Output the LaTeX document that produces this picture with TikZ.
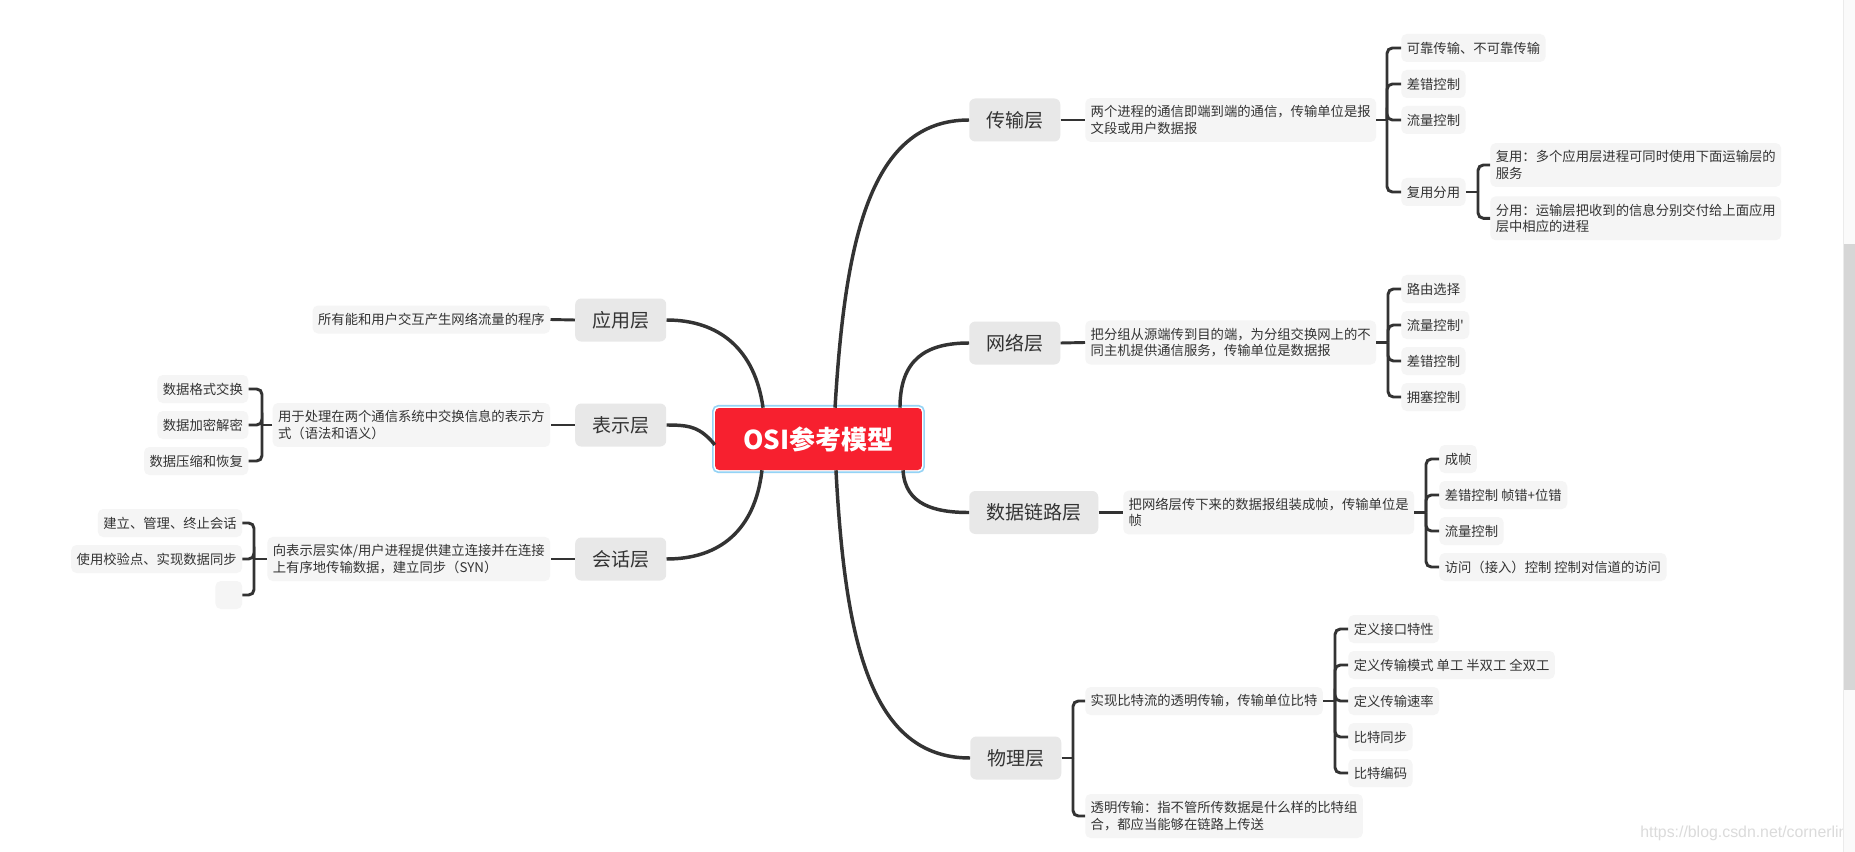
\documentclass[tikz,border=0pt]{standalone}
\usepackage{fontspec}
\newfontfamily\cjk{Noto Sans CJK SC}
\newfontfamily\urlfont{Liberation Sans}

\definecolor{rootred}{HTML}{F7202F}
\definecolor{selblue}{HTML}{95D3F5}
\definecolor{linegray}{HTML}{333333}
\definecolor{topicgray}{HTML}{E8E8E8}
\definecolor{leafgray}{HTML}{F5F5F5}
\definecolor{textgray}{HTML}{333333}

\tikzset{
	root/.style={fill=rootred, text=white, rounded corners=3pt, minimum width=155pt, minimum height=46.5pt, font=\cjk\fontsize{19.5}{23}\selectfont\bfseries},
	topic/.style={fill=topicgray, text=textgray, rounded corners=4.5pt, inner xsep=12.75pt, inner ysep=2pt, minimum height=32.25pt, font=\cjk\fontsize{14.25}{17}\selectfont},
	leaf/.style={fill=leafgray, text=textgray, rounded corners=4pt, inner xsep=4.1pt, inner ysep=5.5pt, minimum height=21pt, minimum width=20pt, align=left, font=\cjk\fontsize{10}{12.5}\selectfont},
	branch/.style={draw=linegray, line width=2.2pt},
	limb/.style={draw=linegray, line width=2.6pt},
	brace/.style={branch, rounded corners=4pt},
	wmark/.style={text=black!14, inner sep=0pt, font=\urlfont\fontsize{11.9}{14}\selectfont},
}

\begin{document}
\begin{tikzpicture}[x=0.75pt, y=-0.75pt]
	\useasboundingbox [fill=white] (0,0) rectangle (1855,852);

	% Root and main topics
	\node [root] (osi) at (818.5,439) {OSI参考模型};
	\draw [selblue, line width=1.2pt, rounded corners=4pt] ([shift={(-2,-2)}]osi.north west) rectangle ([shift={(2,2)}]osi.south east);

	\node [topic, anchor=west] (tran) at (969,120) {传输层};
	\node [topic, anchor=west] (net) at (969,343) {网络层};
	\node [topic, anchor=west] (dll) at (969,512.5) {数据链路层};
	\node [topic, anchor=west] (phy) at (970,758) {物理层};
	\node [topic, anchor=east] (app) at (666.5,320) {应用层};
	\node [topic, anchor=east] (pres) at (666.5,425) {表示层};
	\node [topic, anchor=east] (sess) at (666.5,559) {会话层};

	\draw [limb] ([xshift=12.4pt]osi.north) .. controls (845,240) and (870,120) .. (tran.west);
	\draw [limb] ([xshift=61.1pt]osi.north) .. controls (900,360) and (925,343) .. (net.west);
	\draw [limb] ([xshift=63.4pt]osi.south) .. controls (905,505) and (935,512.5) .. (dll.west);
	\draw [limb] ([xshift=13.1pt]osi.south) .. controls (845,640) and (870,758) .. (phy.west);
	\draw [limb] ([xshift=-41.6pt]osi.north) .. controls (755,350) and (720,320) .. (app.east);
	\draw [limb] ([yshift=-4.4pt]osi.west) .. controls (700,427) and (690,425) .. (pres.east);
	\draw [limb] ([xshift=-42.4pt]osi.south) .. controls (755,530) and (720,559) .. (sess.east);

	% Transport layer
	\node [leaf, anchor=west] (tran-d) at (1085,120) {两个进程的通信即端到端的通信，传输单位是报\\文段或用户数据报};
	\draw [branch] (tran.east) -- (tran-d.west);
	\coordinate (tran-b) at (1387,120);
	\draw [branch] (tran-d.east) -- (tran-b);
	\foreach \t [count=\k] in {可靠传输、不可靠传输,差错控制,流量控制,复用分用}{
		\ifnum\k<4
			\node [leaf, anchor=west] (tran-\k) at (1401,{12+36*\k}) {\t};
		\else
			\node [leaf, anchor=west] (tran-\k) at (1401,192) {\t};
		\fi
		\draw [brace] (tran-b) |- (tran-\k.west);
	}

	\coordinate (mux-b) at (1478,192);
	\draw [branch] (tran-4.east) -- (mux-b);
	\node [leaf, anchor=west] (mux-1) at (1490,165) {复用：多个应用层进程可同时使用下面运输层的\\服务};
	\node [leaf, anchor=west] (mux-2) at (1490,218.3) {分用：运输层把收到的信息分别交付给上面应用\\层中相应的进程};
	\draw [brace] (mux-b) |- (mux-1.west);
	\draw [brace] (mux-b) |- (mux-2.west);

	% Network layer
	\node [leaf, anchor=west] (net-d) at (1085,342.5) {把分组从源端传到目的端，为分组交换网上的不\\同主机提供通信服务，传输单位是数据报};
	\draw [branch] (net.east) -- (net-d.west);
	\coordinate (net-b) at (1388,342.5);
	\draw [branch] (net-d.east) -- (net-b);
	\foreach \t [count=\k] in {路由选择,流量控制',差错控制,拥塞控制}{
		\node [leaf, anchor=west] (net-\k) at (1401,{253+36*\k}) {\t};
		\draw [brace] (net-b) |- (net-\k.west);
	}

	% Data link layer
	\node [leaf, anchor=west] (dll-d) at (1123,512.5) {把网络层传下来的数据报组装成帧，传输单位是\\帧};
	\draw [branch] (dll.east) -- (dll-d.west);
	\coordinate (dll-b) at (1426,512.5);
	\draw [branch] (dll-d.east) -- (dll-b);
	\foreach \t [count=\k] in {成帧,差错控制 帧错+位错,流量控制,访问（接入）控制 控制对信道的访问}{
		\node [leaf, anchor=west] (dll-\k) at (1439,{423+36*\k}) {\t};
		\draw [brace] (dll-b) |- (dll-\k.west);
	}

	% Physical layer
	\coordinate (phy-b) at (1073,758);
	\draw [branch] (phy.east) -- (phy-b);
	\node [leaf, anchor=west] (phy-d1) at (1085,701) {实现比特流的透明传输，传输单位比特};
	\node [leaf, anchor=west] (phy-d2) at (1085,816) {透明传输：指不管所传数据是什么样的比特组\\合，都应当能够在链路上传送};
	\draw [brace] (phy-b) |- (phy-d1.west);
	\draw [brace] (phy-b) |- (phy-d2.west);
	\coordinate (phy-c) at (1335,701);
	\draw [branch] (phy-d1.east) -- (phy-c);
	\foreach \t [count=\k] in {定义接口特性,定义传输模式 单工 半双工 全双工,定义传输速率,比特同步,比特编码}{
		\node [leaf, anchor=west] (phy-\k) at (1348,{593+36*\k}) {\t};
		\draw [brace] (phy-c) |- (phy-\k.west);
	}

	% Left side
	\node [leaf, anchor=east] (app-d) at (550.5,319.5) {所有能和用户交互产生网络流量的程序};
	\draw [branch] (app.west) -- (app-d.east);

	\node [leaf, anchor=east] (pres-d) at (550.5,425) {用于处理在两个通信系统中交换信息的表示方\\式（语法和语义）};
	\draw [branch] (pres.west) -- (pres-d.east);
	\coordinate (pres-b) at (262,425);
	\draw [branch] (pres-d.west) -- (pres-b);
	\foreach \t [count=\k] in {数据格式交换,数据加密解密,数据压缩和恢复}{
		\node [leaf, anchor=east] (pres-\k) at (248.6,{353+36*\k}) {\t};
		\draw [brace] (pres-b) |- (pres-\k.east);
	}

	\node [leaf, anchor=east] (sess-d) at (550.5,559) {向表示层实体/用户进程提供建立连接并在连接\\上有序地传输数据，建立同步（SYN）};
	\draw [branch] (sess.west) -- (sess-d.east);
	\coordinate (sess-b) at (254,559);
	\draw [branch] (sess-d.west) -- (sess-b);
	\foreach \t [count=\k] in {建立、管理、终止会话,使用校验点、实现数据同步,{}}{
		\node [leaf, anchor=east] (sess-\k) at (242.4,{487+36*\k}) {\t};
		\draw [brace] (sess-b) |- (sess-\k.east);
	}

	% Watermark and scrollbar
	\node [wmark, anchor=west] (url) at (1640,833) {https://blog.csdn.net/cornerlin};
	\fill [black!2] (1843,0) rectangle (1855,852);
	\draw [black!8, line width=0.5pt] (1843,0) -- (1843,852);
	\fill [black!16] (1843.5,244) rectangle (1855,690);
\end{tikzpicture}
\end{document}
